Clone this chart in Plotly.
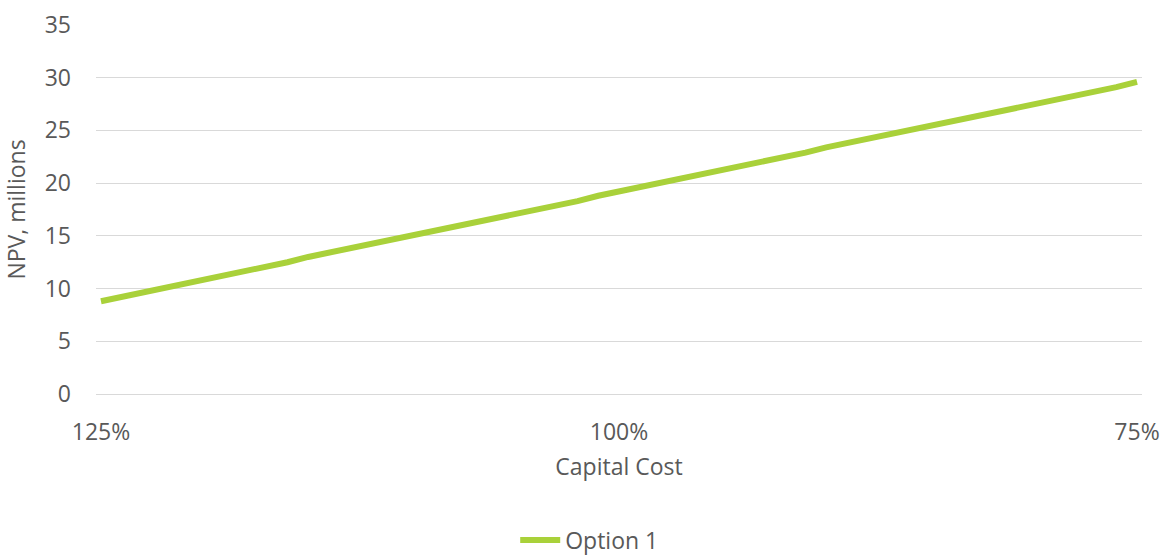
import plotly.graph_objects as go

# Capital cost scenarios, from 125% down to 75% in 1% steps
capital_cost_pct = list(range(125, 74, -1))

# NPV (millions) for Option 1 at each capital cost level
npv_option1 = [
    8.8, 9.2, 9.6, 10.0, 10.4, 10.9, 11.3, 11.7, 12.1, 12.5,
    13.0, 13.4, 13.8, 14.2, 14.6, 15.1, 15.5, 15.9, 16.3, 16.7,
    17.1, 17.5, 17.9, 18.3, 18.8, 19.2, 19.6, 20.0, 20.4, 20.9,
    21.3, 21.7, 22.1, 22.5, 22.9, 23.4, 23.8, 24.2, 24.6, 25.0,
    25.4, 25.8, 26.2, 26.7, 27.1, 27.5, 27.9, 28.3, 28.7, 29.1,
    29.6,
]

# Only every 25th category is labelled
x_tick_labels = ["125%", "100%", "75%"]
y_ticks = [0, 5, 10, 15, 20, 25, 30, 35]

categories = [f"{p}%" for p in capital_cost_pct]
x_idx = list(range(len(categories)))
tick_positions = [categories.index(lbl) for lbl in x_tick_labels]

FONT = "Open Sans"
SIZE = 23
TEXT = "#595959"
GRID = "#d9d9d9"
LINE = "#a9d13a"

fig = go.Figure()
fig.add_trace(go.Scatter(
    x=x_idx,
    y=npv_option1,
    mode="lines",
    name="Option 1",
    line=dict(color=LINE, width=6, shape="linear"),
    customdata=categories,
    hovertemplate="%{customdata}: %{y}<extra></extra>",
))

fig.update_layout(
    width=1163,
    height=556,
    margin=dict(l=96, r=21, t=25, b=162, autoexpand=False),
    paper_bgcolor="white",
    plot_bgcolor="white",
    font=dict(family=FONT, size=SIZE, color=TEXT),
    showlegend=True,
    legend=dict(
        orientation="h",
        x=0.472,
        xanchor="center",
        y=-0.396,
        yanchor="middle",
        font=dict(family=FONT, size=SIZE, color=TEXT),
        itemwidth=40,
    ),
    xaxis=dict(
        range=[-0.24, 50.24],
        tickmode="array",
        tickvals=tick_positions,
        ticktext=x_tick_labels,
        showgrid=False,
        zeroline=False,
        showline=False,
        ticks="",
        ticklabelstandoff=22,
        tickfont=dict(family=FONT, size=SIZE, color=TEXT),
        title=dict(text="Capital Cost", font=dict(family=FONT, size=SIZE, color=TEXT), standoff=12),
        automargin=False,
    ),
    yaxis=dict(
        range=[0, 35],
        tickmode="array",
        tickvals=y_ticks,
        showgrid=True,
        gridcolor=GRID,
        gridwidth=1,
        zeroline=True,
        zerolinecolor=GRID,
        zerolinewidth=1,
        showline=False,
        ticks="",
        ticklabelstandoff=24,
        tickfont=dict(family=FONT, size=SIZE, color=TEXT),
        title=dict(text="NPV, millions", font=dict(family=FONT, size=SIZE, color=TEXT), standoff=12),
        automargin=False,
    ),
)

fig.write_html("out.html")
